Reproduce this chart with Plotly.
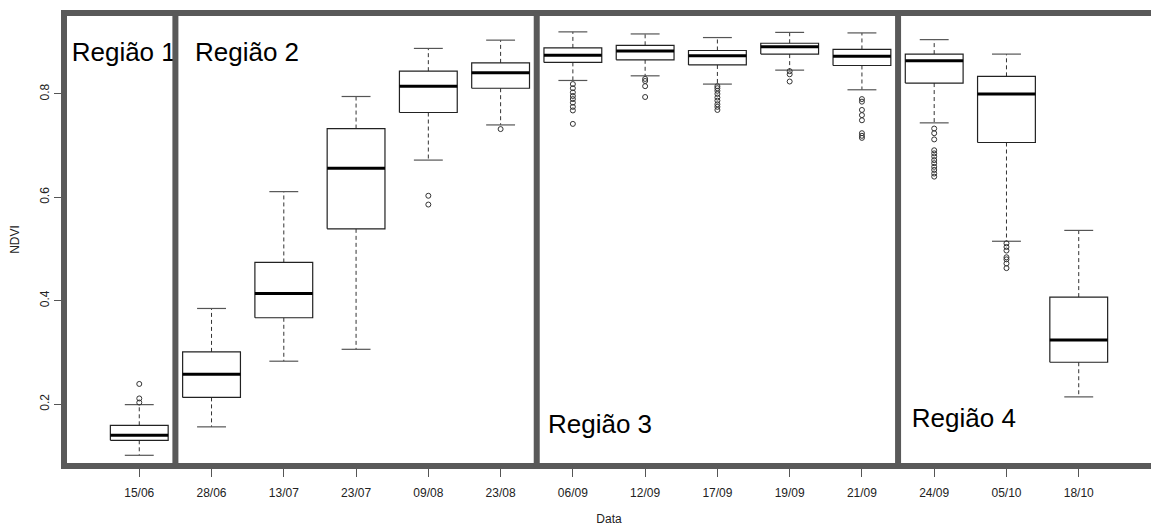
import plotly.graph_objects as go

# ---------------- data ----------------
dates = ["15/06", "28/06", "13/07", "23/07", "09/08", "23/08", "06/09",
         "12/09", "17/09", "19/09", "21/09", "24/09", "05/10", "18/10"]
lower_whisker = [0.101, 0.156, 0.283, 0.306, 0.672, 0.740, 0.826,
                 0.835, 0.819, 0.846, 0.808, 0.744, 0.515, 0.214]
q1 = [0.130, 0.213, 0.367, 0.539, 0.764, 0.811, 0.861,
      0.866, 0.856, 0.877, 0.855, 0.821, 0.706, 0.281]
median = [0.140, 0.258, 0.414, 0.656, 0.815, 0.841, 0.875,
          0.883, 0.874, 0.891, 0.873, 0.864, 0.800, 0.324]
q3 = [0.159, 0.301, 0.474, 0.733, 0.844, 0.860, 0.889,
      0.894, 0.884, 0.898, 0.886, 0.877, 0.834, 0.407]
upper_whisker = [0.199, 0.385, 0.611, 0.795, 0.888, 0.904, 0.920,
                 0.916, 0.909, 0.919, 0.918, 0.905, 0.877, 0.536]
outliers = [
    [0.239, 0.211, 0.203],
    [],
    [],
    [],
    [0.603, 0.586],
    [0.732],
    [0.819, 0.811, 0.803, 0.796, 0.790, 0.783, 0.775, 0.768, 0.742],
    [0.829, 0.825, 0.815, 0.794],
    [0.815, 0.811, 0.806, 0.800, 0.793, 0.787, 0.780, 0.775, 0.769],
    [0.844, 0.838, 0.824],
    [0.790, 0.785, 0.769, 0.759, 0.749, 0.724, 0.719, 0.715],
    [0.733, 0.724, 0.712, 0.691, 0.685, 0.679, 0.672, 0.666, 0.659, 0.653, 0.646, 0.640],
    [0.511, 0.504, 0.497, 0.484, 0.480, 0.472, 0.463],
    [],
]
region_names = ["Região 1", "Região 2", "Região 3", "Região 4"]
region_label_x = [0.065, 1.771, 6.656, 11.69]
region_label_y = [0.876, 0.876, 0.157, 0.169]
region_bounds = [1.5, 6.5, 11.5]
y_ticks = [0.2, 0.4, 0.6, 0.8]

# ---------------- styles ----------------
BOX_HALF = 0.4
CAP_HALF = 0.2
FRAME = "#595959"
FONT = "Liberation Sans, Arial, sans-serif"

pos = list(range(1, len(dates) + 1))

box_x, box_y = [], []
med_x, med_y = [], []
wh_x, wh_y = [], []
cap_x, cap_y = [], []
out_x, out_y = [], []
for p, lo, a, m, b, hi, outs in zip(pos, lower_whisker, q1, median, q3, upper_whisker, outliers):
    box_x += [p - BOX_HALF, p + BOX_HALF, p + BOX_HALF, p - BOX_HALF, p - BOX_HALF, None]
    box_y += [a, a, b, b, a, None]
    med_x += [p - BOX_HALF, p + BOX_HALF, None]
    med_y += [m, m, None]
    wh_x += [p, p, None, p, p, None]
    wh_y += [b, hi, None, a, lo, None]
    cap_x += [p - CAP_HALF, p + CAP_HALF, None, p - CAP_HALF, p + CAP_HALF, None]
    cap_y += [hi, hi, None, lo, lo, None]
    out_x += [p] * len(outs)
    out_y += outs

fig = go.Figure()
fig.add_trace(go.Scatter(x=wh_x, y=wh_y, mode="lines",
                         line=dict(color="#333333", width=1, dash="4px,3px"),
                         hoverinfo="skip", showlegend=False))
fig.add_trace(go.Scatter(x=cap_x, y=cap_y, mode="lines",
                         line=dict(color="#555555", width=1.2),
                         hoverinfo="skip", showlegend=False))
fig.add_trace(go.Scatter(x=box_x, y=box_y, mode="lines", fill="toself",
                         fillcolor="white",
                         line=dict(color="#222222", width=1.2),
                         hoverinfo="skip", showlegend=False))
fig.add_trace(go.Scatter(x=med_x, y=med_y, mode="lines",
                         line=dict(color="black", width=3),
                         hoverinfo="skip", showlegend=False))
fig.add_trace(go.Scatter(x=out_x, y=out_y, mode="markers",
                         marker=dict(symbol="circle-open", size=5,
                                     color="#333333", line=dict(width=1)),
                         hoverinfo="skip", showlegend=False))
fig.add_trace(go.Scatter(x=region_label_x, y=region_label_y, mode="text",
                         text=region_names, textposition="middle right",
                         textfont=dict(family=FONT, size=26, color="black"),
                         cliponaxis=False,
                         hoverinfo="skip", showlegend=False))

for xb in region_bounds:
    fig.add_shape(type="line", xref="x", yref="paper", x0=xb, x1=xb,
                  y0=-0.008, y1=1.008, layer="above",
                  line=dict(color=FRAME, width=6))

fig.update_layout(
    width=1151, height=526,
    margin=dict(l=67, r=0, t=16, b=63, autoexpand=False),
    paper_bgcolor="white", plot_bgcolor="white",
    font=dict(family=FONT, size=12, color="#222222"),
    xaxis=dict(
        range=[0, 15], tickmode="array", tickvals=pos, ticktext=dates,
        automargin=False,
        showgrid=False, zeroline=False, showline=True, linewidth=6,
        linecolor=FRAME, mirror=True, ticks="outside", ticklen=8,
        tickcolor="#555555", tickwidth=1, ticklabelstandoff=6,
        tickfont=dict(family=FONT, size=12, color="#222222"),
        title=dict(text="Data", font=dict(family=FONT, size=12, color="#222222"),
                   standoff=21),
    ),
    yaxis=dict(
        range=[0.0861, 0.9507], tickmode="array", tickvals=y_ticks,
        ticktext=[f"{v:.1f}" for v in y_ticks], tickangle=-90,
        automargin=False,
        showgrid=False, zeroline=False, showline=True, linewidth=6,
        linecolor=FRAME, ticks="outside", ticklen=7,
        tickcolor="#555555", tickwidth=1,
        tickfont=dict(family=FONT, size=12, color="#222222"),
        title=dict(text="NDVI", font=dict(family=FONT, size=12, color="#222222"),
                   standoff=18),
    ),
)

fig.write_html("out.html")
